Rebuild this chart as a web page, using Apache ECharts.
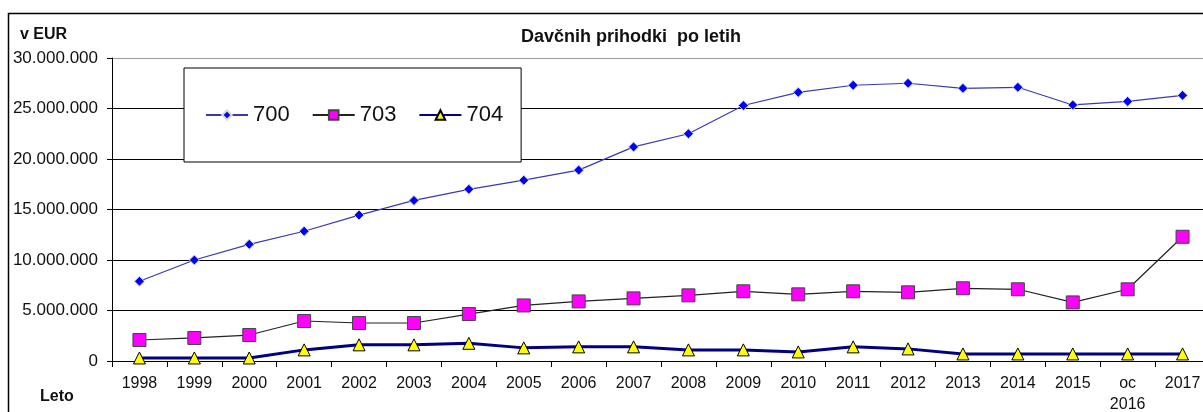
<!DOCTYPE html>
<html>
<head>
<meta charset="utf-8">
<script src="https://cdn.jsdelivr.net/npm/echarts@6/dist/echarts.min.js"></script>
<style>
  html, body { margin: 0; padding: 0; background: #fff; }
  #chart { width: 1203px; height: 412px; }
</style>
</head>
<body>
<div id="chart"></div>
<script>
// leta (kategorije)
var years = ['1998', '1999', '2000', '2001', '2002', '2003', '2004', '2005', '2006', '2007',
             '2008', '2009', '2010', '2011', '2012', '2013', '2014', '2015', 'oc\n2016', '2017'];

// vrednosti v EUR
var s700 = [7900000, 10000000, 11550000, 12850000, 14450000, 15900000, 17000000, 17900000, 18900000, 21200000,
            22500000, 25300000, 26600000, 27300000, 27500000, 27000000, 27100000, 25350000, 25700000, 26300000];
var s703 = [2080000, 2280000, 2570000, 3960000, 3760000, 3760000, 4650000, 5500000, 5900000, 6200000,
            6500000, 6900000, 6600000, 6900000, 6800000, 7200000, 7100000, 5800000, 7100000, 12300000];
var s704 = [300000, 300000, 300000, 1100000, 1600000, 1600000, 1750000, 1300000, 1400000, 1400000,
            1100000, 1100000, 900000, 1400000, 1200000, 700000, 700000, 700000, 700000, 700000];

var seriesNames = ['700', '703', '704'];

function fmt(v) {
    return String(v).replace(/\B(?=(\d{3})+(?!\d))/g, '.');
}

var chart = echarts.init(document.getElementById('chart'));

var option = {
    animation: false,
    backgroundColor: '#fff',
    textStyle: { fontFamily: 'Liberation Sans, Arial, sans-serif' },
    title: {
        text: 'Davčnih prihodki  po letih',
        left: 626,
        textAlign: 'center',
        top: 23,
        textStyle: { fontSize: 18, fontWeight: 'bold', color: '#111' }
    },
    graphic: [
        {
            type: 'rect',
            shape: { x: 8.5, y: 13.5, width: 1300, height: 500 },
            style: { fill: 'none', stroke: '#000', lineWidth: 1.5 },
            silent: true
        },
        {
            type: 'text', left: 20, top: 27,
            style: { text: 'v EUR', font: 'bold 16px Liberation Sans, Arial', fill: '#111' }
        },
        {
            type: 'text', left: 40, top: 389,
            style: { text: 'Leto', font: 'bold 16px Liberation Sans, Arial', fill: '#111' }
        }
    ],
    legend: {
        data: seriesNames,
        left: 184,
        top: 68,
        padding: [36, 18, 36, 21],
        itemWidth: 42,
        itemHeight: 12,
        itemGap: 22,
        backgroundColor: '#fff',
        borderColor: '#000',
        borderWidth: 1,
        textStyle: { fontSize: 22, color: '#111' }
    },
    grid: { left: 112, top: 58, width: 1098, bottom: 51, outerBoundsMode: 'none', containLabel: false },
    xAxis: {
        type: 'category',
        data: years,
        boundaryGap: true,
        axisLine: { lineStyle: { color: '#000', width: 1 } },
        axisTick: { show: true, length: 6, lineStyle: { color: '#000' } },
        axisLabel: { color: '#111', fontSize: 16, margin: 12, lineHeight: 21, interval: 0 }
    },
    yAxis: {
        type: 'value',
        min: 0,
        max: 30000000,
        interval: 5000000,
        axisLine: { show: true, lineStyle: { color: '#000', width: 1 } },
        axisTick: { show: true, length: 5, lineStyle: { color: '#000' } },
        axisLabel: { color: '#111', fontSize: 17, margin: 14, formatter: fmt },
        splitLine: { lineStyle: { color: ['#000', '#000', '#000', '#000', '#000', '#000', '#999'], width: 1 } }
    },
    series: [
        {
            name: '700',
            type: 'line',
            data: s700,
            symbol: 'diamond',
            symbolSize: 10,
            lineStyle: { color: '#3a3ab0', width: 1.2 },
            itemStyle: { color: '#0000ff', borderColor: '#ddddcc', borderWidth: 1 },
            z: 3
        },
        {
            name: '703',
            type: 'line',
            data: s703,
            symbol: 'rect',
            symbolSize: 13,
            lineStyle: { color: '#222', width: 1.2 },
            itemStyle: { color: '#ff00ff', borderColor: '#444', borderWidth: 1 },
            z: 3
        },
        {
            name: '704',
            type: 'line',
            data: s704,
            symbol: 'triangle',
            symbolSize: 12,
            lineStyle: { color: '#000080', width: 3 },
            itemStyle: { color: '#ffff00', borderColor: '#000', borderWidth: 1 },
            z: 3
        }
    ]
};

chart.setOption(option);
</script>
</body>
</html>
